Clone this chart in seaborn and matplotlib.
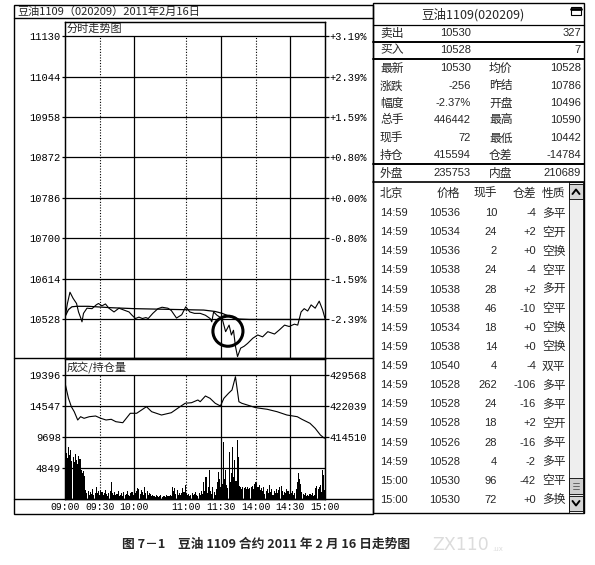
import numpy as np
import pandas as pd
import matplotlib.pyplot as plt
from matplotlib.lines import Line2D
from matplotlib.patches import Rectangle, Ellipse
import seaborn as sns

# --- 1. Dữ liệu ---
title_text = "豆油1109（020209）2011年2月16日"
panel_title = "豆油1109(020209)"
caption = "图 7－1　豆油 1109 合约 2011 年 2 月 16 日走势图"

time_labels = ["09:00", "09:30", "10:00", "11:00", "11:30", "14:00", "14:30", "15:00"]
time_minutes = [0, 30, 60, 105, 135, 165, 195, 225]   # phút giao dịch kể từ 09:00
solid_minutes = [60, 135, 195]
dotted_minutes = [30, 105, 165]

price_ticks = [11130, 11044, 10958, 10872, 10786, 10700, 10614, 10528]
pct_labels = ["+3.19%", "+2.39%", "+1.59%", "+0.80%", "+0.00%", "-0.80%", "-1.59%", "-2.39%"]
vol_ticks = [19396, 14547, 9698, 4849]
oi_ticks = [429568, 422039, 414510]

price_min = [0, 2, 4.3, 7, 10, 11.7, 13.8, 14.7, 16, 19, 23.4, 27, 29, 32, 35, 38, 42.4, 46.7, 51, 55.4,
             58, 61, 64, 67, 70, 72, 76, 80.4, 84, 89, 92, 96.5, 101, 104.5, 108, 112, 117, 121.5, 125.6, 127,
             128.6, 131.5, 134, 136, 139, 142, 144, 145.8, 147.5, 149.3, 152, 155, 158, 162.5, 166.8,
             171, 175.5, 181.3, 185.6, 190, 194, 198.5, 201.4, 204.3, 207, 210, 213, 216.5, 220, 223, 225]
price_val = [10529, 10560, 10585, 10572, 10561, 10543, 10529, 10522, 10540, 10551, 10550, 10558, 10561, 10556,
             10560, 10551, 10543, 10551, 10547, 10543, 10536, 10529, 10532, 10529, 10531, 10529, 10540, 10550,
             10553, 10551, 10546, 10530, 10537, 10554, 10543, 10540, 10540, 10536, 10529, 10522, 10543, 10536,
             10532, 10529, 10501, 10515, 10494, 10504, 10470, 10448, 10466, 10470, 10476, 10487, 10494, 10490,
             10501, 10496, 10505, 10515, 10512, 10517, 10515, 10543, 10550, 10545, 10558, 10551, 10566, 10547,
             10529]

avg_min = [0, 3, 6, 10, 20, 40, 60, 80, 100, 120, 130, 136, 140, 145, 150, 160, 180, 200, 225]
avg_val = [10533, 10548, 10554, 10555, 10555, 10552, 10550, 10549, 10548, 10547, 10544, 10540, 10536, 10531,
           10528, 10527, 10527, 10527, 10527]

oi_min = [0, 3, 5.5, 8, 11, 13.5, 16.5, 21, 26.5, 31, 35.5, 40, 44, 50, 56.5, 62, 70.5, 75, 83.5, 92,
          99.5, 104, 109.5, 115, 117, 121.5, 125.5, 130, 134.5, 137.5, 141.5, 144.5, 147.5, 150.5, 153,
          160.5, 165, 175, 183.5, 192, 201, 205, 212, 216.5, 221, 224.5]
oi_val = [427625, 423910, 421870, 420655, 418640, 419440, 419050, 419440, 419610, 419050, 418640, 418810,
          418230, 417980, 420270, 420270, 421870, 420655, 419850, 420410, 421870, 422700, 422840, 423500,
          423080, 424470, 423910, 422700, 422040, 423910, 425120, 425930, 429155, 423080, 422700, 422040,
          421630, 421240, 420655, 419850, 419440, 418810, 417840, 416620, 415000, 414200]

volume = [10500, 7200, 6400, 8100, 6900, 7600, 5900, 6500, 5800, 7000, 6100, 5400, 6800, 6200, 4500,
          4100, 4400, 3600, 1400, 900, 1300, 700, 1100, 800, 1500, 600, 1000, 1800, 900, 1200,
          700, 1300, 1100, 600, 900, 1400, 800, 500, 1000, 1200, 2700, 900, 700, 1100, 600,
          800, 1300, 500, 700, 900, 400, 1100, 600, 800, 1300, 700, 500, 900, 1100, 600,
          1600, 900, 1200, 1700, 1500, 800, 1400, 1100, 700, 1900, 900, 1300, 600, 1000, 800,
          500, 700, 400, 300, 600, 500, 300, 400, 600, 300, 500, 400, 300, 600, 400,
          500, 700, 400, 1900, 1200, 1700, 800, 1400, 600, 1000, 700, 900, 1700, 1100, 2200,
          900, 600, 800, 500, 700, 900, 600, 800, 1100, 700, 500, 900, 600, 1200, 800,
          2700, 1300, 3500, 1000, 1800, 4500, 1200, 800, 1900, 1100, 700, 1500, 2700, 4300, 3200,
          1800, 2400, 8960, 3100, 4540, 2200, 1700, 7400, 2600, 4000, 8180, 3500, 6100, 2800, 9230,
          6600, 2100, 1800, 1600, 1900, 1700, 1800, 1500, 1900, 1600, 1700, 1800, 2000, 1500, 2300,
          2700, 2500, 1900, 2200, 1400, 1700, 1200, 1900, 800, 1300, 1600, 900, 2200, 1100, 1500,
          700, 1200, 900, 1600, 1000, 1400, 1800, 2100, 1300, 700, 1100, 900, 1600, 1300, 800,
          600, 900, 1200, 700, 1000, 1500, 2600, 4070, 3200, 2400, 1100, 800, 600, 900, 500,
          700, 400, 800, 600, 900, 500, 700, 1700, 2100, 1600, 1900, 2200, 1100, 4540, 3800,
          1400]

quote_label1 = ["卖出", "买入", "最新", "涨跌", "幅度", "总手", "现手", "持仓", "外盘"]
quote_value1 = ["10530", "10528", "10530", "-256", "-2.37%", "446442", "72", "415594", "235753"]
quote_label2 = ["", "", "均价", "昨结", "开盘", "最高", "最低", "仓差", "内盘"]
quote_value2 = ["327", "7", "10528", "10786", "10496", "10590", "10442", "-14784", "210689"]

trade_header = ["北京", "价格", "现手", "仓差", "性质"]
trade_time = ["14:59", "14:59", "14:59", "14:59", "14:59", "14:59", "14:59", "14:59",
              "14:59", "14:59", "14:59", "14:59", "14:59", "14:59", "15:00", "15:00"]
trade_price = [10536, 10534, 10536, 10538, 10538, 10538, 10534, 10538,
               10540, 10528, 10528, 10528, 10526, 10528, 10530, 10530]
trade_vol = [10, 24, 2, 24, 28, 46, 18, 14, 4, 262, 24, 18, 28, 4, 96, 72]
trade_oi = ["-4", "+2", "+0", "-4", "+2", "-10", "+0", "+0", "-4", "-106", "-16", "+2", "-16", "-2", "-42", "+0"]
trade_type = ["多平", "空开", "空换", "空平", "多开", "空平", "空换", "空换",
              "双平", "多平", "多平", "空开", "多平", "多平", "空平", "多换"]

# --- 2. Thiết lập ---
sns.set_theme(style="white")
plt.rcParams['font.family'] = ['Noto Sans CJK SC', 'DejaVu Sans']
plt.rcParams['axes.unicode_minus'] = False
MONO = 'Liberation Mono'
SANS = 'Liberation Sans'
CJK = 'Noto Sans CJK SC'

W, H = 595, 565
fig = plt.figure(figsize=(W / 100, H / 100), dpi=100)


def fx(x):
    return x / W


def fy(y):
    return 1 - y / H


def hline(y, x0, x1, lw=1.0, color='black'):
    fig.add_artist(Line2D([fx(x0), fx(x1)], [fy(y), fy(y)], color=color, lw=lw))


def box(x0, y0, x1, y1, lw=1.0, fc='none', ec='black'):
    fig.add_artist(Rectangle((fx(x0), fy(y1)), (x1 - x0) / W, (y1 - y0) / H,
                             transform=fig.transFigure, fc=fc, ec=ec, lw=lw))


def txt(x, y, s, ha='left', size=8, family=CJK, **kw):
    fig.text(fx(x), fy(y), s, ha=ha, va='center', fontsize=size, family=family, **kw)


def style_axes(ax):
    for sp in ax.spines.values():
        sp.set_color('black')
        sp.set_linewidth(0.9)
    ax.grid(False)


# --- 3. Biểu đồ giá ---
ax_p = fig.add_axes([fx(65), fy(358), 260 / W, 336 / H])
sns.lineplot(x=avg_min, y=avg_val, ax=ax_p, color='black', lw=0.9, sort=False, estimator=None)
sns.lineplot(x=price_min, y=price_val, ax=ax_p, color='black', lw=0.8, sort=False, estimator=None)
ax_p.set_xlim(0, 225)
ax_p.set_ylim(10445, 11160)
ax_p.hlines(price_ticks, 0, 225, color='black', lw=0.9)
ax_p.vlines(solid_minutes, 10445, 11130, color='black', lw=0.9)
ax_p.vlines(dotted_minutes, 10445, 11130, color='black', lw=0.8, linestyles=(0, (1, 1.5)))
ax_p.add_patch(Ellipse((141, 10502), 26, 64, fill=False, ec='black', lw=2.2))
ax_p.set_xticks([])
ax_p.set_yticks(price_ticks, labels=[str(v) for v in price_ticks], fontfamily=MONO, fontsize=7.5)
ax_p.tick_params(axis='y', left=True, length=2, width=0.9, pad=1, color='black', labelcolor='black')
style_axes(ax_p)

ax_p2 = ax_p.twinx()
ax_p2.set_ylim(ax_p.get_ylim())
ax_p2.set_yticks(price_ticks, labels=pct_labels, fontfamily=MONO, fontsize=7.5)
ax_p2.tick_params(axis='y', right=True, length=3, width=0.9, pad=0, color='black', labelcolor='black')
style_axes(ax_p2)

# --- 4. Khối lượng / vị thế mở ---
ax_v = fig.add_axes([fx(65), fy(499), 260 / W, 140 / H])
ax_v.bar(np.arange(len(volume)), volume, width=0.92, color='black', lw=0)
ax_v.set_xlim(0, 225)
ax_v.set_ylim(0, 21898)
ax_v.hlines(vol_ticks, 0, 225, color='black', lw=0.9)
ax_v.vlines(solid_minutes, 0, 19396, color='black', lw=0.9)
ax_v.vlines(dotted_minutes, 0, 19396, color='black', lw=0.8, linestyles=(0, (1, 1.5)))
ax_v.set_yticks(vol_ticks, labels=[str(v) for v in vol_ticks], fontfamily=MONO, fontsize=7.5)
ax_v.set_xticks(time_minutes, labels=time_labels, fontfamily=MONO, fontsize=7)
ax_v.tick_params(axis='y', left=True, length=2, width=0.9, pad=1, color='black', labelcolor='black')
ax_v.tick_params(axis='x', bottom=False, length=0, pad=2.5, labelcolor='black')
style_axes(ax_v)

ax_o = ax_v.twinx()
sns.lineplot(x=oi_min, y=oi_val, ax=ax_o, color='black', lw=0.8, sort=False, estimator=None)
ax_o.set_ylim(399452, 433454)
ax_o.set_yticks(oi_ticks, labels=[str(v) for v in oi_ticks], fontfamily=MONO, fontsize=7.5)
ax_o.tick_params(axis='y', right=True, length=3, width=0.9, pad=0, color='black', labelcolor='black')
style_axes(ax_o)
for a in (ax_p, ax_p2, ax_v, ax_o):
    a.set_xlabel("")
    a.set_ylabel("")

# --- 5. Khung bên trái ---
box(14, 5, 373, 514)
hline(18, 14, 373)
hline(358, 14, 373)
hline(499, 14, 373)
txt(17, 12, title_text, size=8)
txt(67, 29, "分时走势图", size=8)
txt(67, 367, "成交/持仓量", size=8)

# --- 6. Bảng bên phải ---
box(373, 3, 584, 513)
txt(473, 15, panel_title, ha='center', size=9)
box(571, 7, 581, 15, lw=0.8)
hline(8.5, 571, 581, lw=2)
hline(25, 373, 584, lw=0.9)
hline(42, 373, 584, lw=1.4)
hline(59, 373, 584, lw=1.4)
hline(164, 373, 584, lw=1.4)
hline(182, 373, 584, lw=1.2)

quote_y = [33, 50, 68, 86, 103, 120, 138, 155, 173]
for i, yy in enumerate(quote_y):
    txt(380, yy, quote_label1[i], size=8.5)
    txt(471, yy, quote_value1[i], ha='right', size=8, family=SANS)
    if quote_label2[i]:
        txt(489, yy, quote_label2[i], size=8.5)
    txt(581, yy, quote_value2[i], ha='right', size=8, family=SANS)

txt(380, 193, trade_header[0], size=8.5)
txt(460, 193, trade_header[1], ha='right', size=8.5)
txt(497, 193, trade_header[2], ha='right', size=8.5)
txt(536, 193, trade_header[3], ha='right', size=8.5)
txt(542, 193, trade_header[4], size=8.5)
for i in range(len(trade_time)):
    yy = 213 + 19.13 * i
    txt(380, yy, trade_time[i], size=8, family=SANS)
    txt(460, yy, str(trade_price[i]), ha='right', size=8, family=SANS)
    txt(497, yy, str(trade_vol[i]), ha='right', size=8, family=SANS)
    txt(536, yy, trade_oi[i], ha='right', size=8, family=SANS)
    txt(542, yy, trade_type[i], size=8.5)

# thanh cuộn
box(569, 182, 583, 513, lw=0.6, fc='#eeeeee')
box(569, 184, 583, 199, lw=0.6, fc='#d6d6d6')
box(569, 496, 583, 511, lw=0.6, fc='#d6d6d6')
box(569, 478, 583, 494, lw=0.6, fc='#cfcfcf')
fig.add_artist(Line2D([fx(572.5), fx(576), fx(579.5)], [fy(194), fy(189.5), fy(194)], color='black', lw=1.4))
fig.add_artist(Line2D([fx(572.5), fx(576), fx(579.5)], [fy(501), fy(505.5), fy(501)], color='black', lw=1.4))
for yy in (483, 486, 489):
    hline(yy, 573, 579, lw=0.6, color='#555555')

# --- 7. Chú thích ---
txt(266, 544, caption, ha='center', size=9.2, weight='bold')
txt(432, 545, "ZX110", size=12.5, family='DejaVu Sans', color='#dcdcdc')
txt(492, 549, ".ux", size=5, family='DejaVu Sans', color='#dcdcdc')

fig.savefig("out.png", dpi=100)
plt.close()
